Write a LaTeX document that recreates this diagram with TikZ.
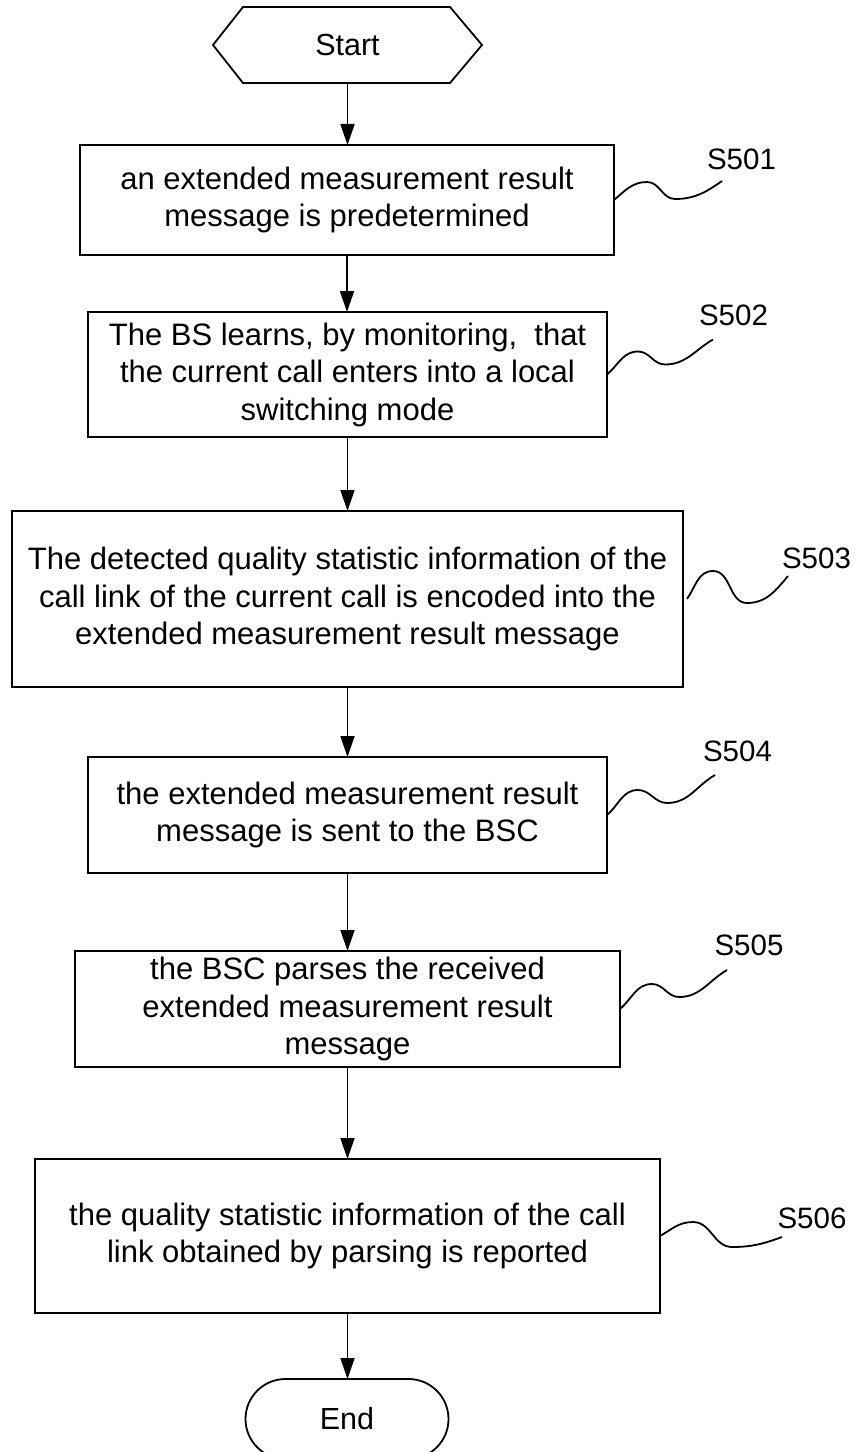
\documentclass[tikz,border=0pt]{standalone}
\usepackage{fontspec}
\setmainfont{Liberation Sans}
\usetikzlibrary{arrows.meta,shapes.misc}
\begin{document}
\begin{tikzpicture}[x=1bp,y=1bp,
  every node/.style={inner sep=0pt, outer sep=0pt},
  stepbox/.style={draw, line width=1.8bp, align=center, font=\fontsize{31bp}{37.5bp}\selectfont},
  flow/.style={line width=1.8bp, -{Triangle[length=21bp,width=14bp]}},
  squig/.style={line width=1.8bp},
  lbl/.style={font=\fontsize{29.5bp}{35bp}\selectfont},
  term/.style={font=\fontsize{30.5bp}{36bp}\selectfont}]
\useasboundingbox (0,0) rectangle (855,-1452);
\fill[white] (0,0) rectangle (855,-1452);

% terminals
\node[term, minimum width=269bp, minimum height=76bp] (start) at (347.5,-45) {Start};
\draw[line width=1.8bp] (start.west) -- ([xshift=30bp]start.north west) -- ([xshift=-32bp]start.north east) -- (start.east) -- ([xshift=-32bp]start.south east) -- ([xshift=30bp]start.south west) -- cycle;

% steps
\node[stepbox, minimum width=534bp, minimum height=110bp] (b1) at (347,-200) {an extended measurement result\\message is predetermined};
\node[stepbox, minimum width=519bp, minimum height=125bp] (b2) at (347.5,-374.5) {The BS learns, by monitoring,\ \ that\\the current call enters into a local\\switching mode};
\node[stepbox, minimum width=671bp, minimum height=176bp] (b3) at (347.5,-599) {The detected quality statistic information of the\\call link of the current call is encoded into the\\extended measurement result message};
\node[stepbox, minimum width=519bp, minimum height=116bp] (b4) at (347.5,-815) {the extended measurement result\\message is sent to the BSC};
\node[stepbox, minimum width=545bp, minimum height=116bp] (b5) at (347.5,-1009) {the BSC parses the received\\extended measurement result\\message};
\node[stepbox, minimum width=625bp, minimum height=154bp] (b6) at (347.5,-1236) {the quality statistic information of the call\\link obtained by parsing is reported};

\node[term, draw, rounded rectangle, line width=1.8bp, minimum width=203bp, minimum height=80bp] (end) at (347,-1419) {End};

% flow arrows
\draw[flow] (start.south) -- (start.south |- b1.north);
\draw[flow] (b1.south) -- (b1.south |- b2.north);
\draw[flow] (b2.south) -- (b2.south |- b3.north);
\draw[flow] (b3.south) -- (b3.south |- b4.north);
\draw[flow] (b4.south) -- (b4.south |- b5.north);
\draw[flow] (b5.south) -- (b5.south |- b6.north);
\draw[flow] (b6.south) -- (b6.south |- end.north);

% step labels
\node[lbl] (l1) at (741.5,-159.5) {S501};
\node[lbl] (l2) at (733.5,-315) {S502};
\node[lbl] (l3) at (816.5,-558) {S503};
\node[lbl] (l4) at (737.5,-751.5) {S504};
\node[lbl] (l5) at (749,-945) {S505};
\node[lbl] (l6) at (812,-1218) {S506};

% squiggle leaders
\draw[squig] (b1.east) to[out=40,in=180] ++(33,18) to[out=0,in=180] ++(28,-17) to[out=0,in=215] ++(47,18);
\draw[squig] (b2.east) to[out=40,in=180] ++(31,23) to[out=0,in=180] ++(27,-13) to[out=0,in=210] ++(48,25);
\draw[squig] ([xshift=4bp]b3.east) to[out=55,in=180] ++(26,28) to[out=0,in=180] ++(34,-32) to[out=0,in=230] ++(41,27);
\draw[squig] (b4.east) to[out=40,in=180] ++(31,25) to[out=0,in=180] ++(29,-13) to[out=0,in=210] ++(48,28);
\draw[squig] (b5.east) to[out=40,in=180] ++(32,25) to[out=0,in=180] ++(27,-13) to[out=0,in=210] ++(48,27);
\draw[squig] (b6.east) to[out=30,in=180] ++(33,14) to[out=0,in=180] ++(39,-25) to[out=0,in=200] ++(50,10);
\end{tikzpicture}
\end{document}
